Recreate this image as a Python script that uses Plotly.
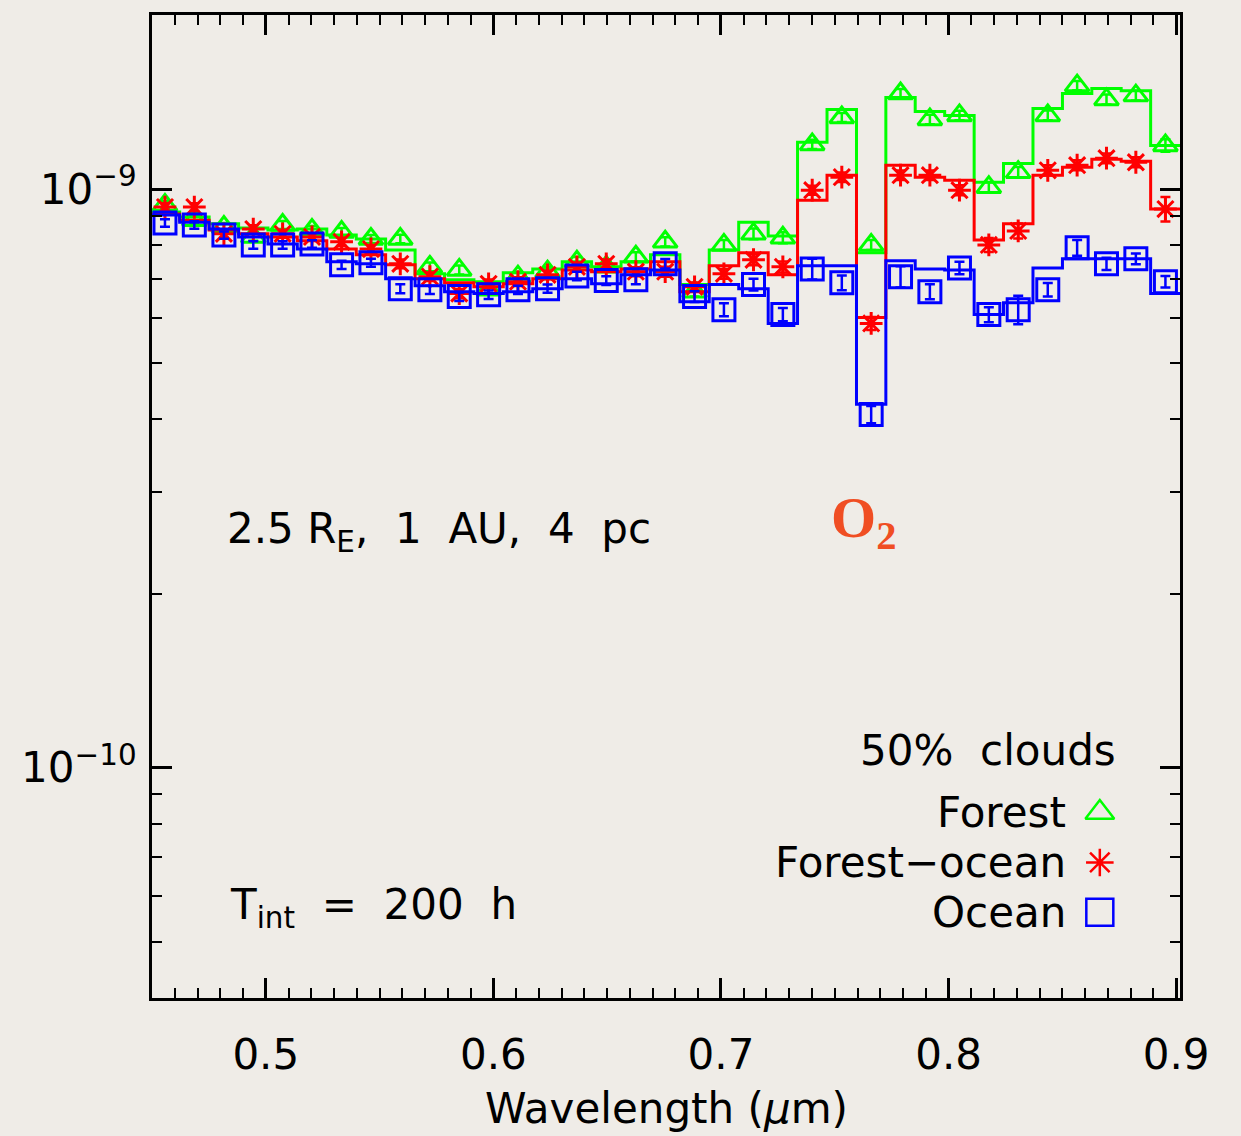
import plotly.graph_objects as go

UNIT = 1e-9

wavelength = [0.4557, 0.4686, 0.4816, 0.4945, 0.5074, 0.5203, 0.5333, 0.5462, 0.5591,
              0.5721, 0.5850, 0.5979, 0.6108, 0.6238, 0.6367, 0.6496, 0.6626, 0.6755,
              0.6884, 0.7013, 0.7143, 0.7272, 0.7401, 0.7531, 0.7660, 0.7789, 0.7918,
              0.8048, 0.8177, 0.8306, 0.8436, 0.8565, 0.8694, 0.8823, 0.8953]

# model spectra (step lines), units of 1e-9
forest_model = [0.913, 0.895, 0.871, 0.857, 0.850, 0.853, 0.833, 0.820, 0.785, 0.714,
                0.697, 0.692, 0.717, 0.728, 0.749, 0.734, 0.749, 0.770, 0.684, 0.785,
                0.877, 0.830, 1.205, 1.373, 0.776, 1.440, 1.362, 1.341, 1.028, 1.108,
                1.378, 1.463, 1.492, 1.480, 1.190]
mixed_model = [0.906, 0.884, 0.850, 0.837, 0.827, 0.814, 0.788, 0.770, 0.740, 0.700,
               0.689, 0.678, 0.686, 0.700, 0.725, 0.720, 0.728, 0.749, 0.665, 0.737,
               0.776, 0.711, 0.957, 1.057, 0.600, 1.100, 1.049, 1.036, 0.817, 0.871,
               1.057, 1.091, 1.126, 1.117, 0.924]
ocean_model = [0.902, 0.877, 0.853, 0.827, 0.804, 0.788, 0.749, 0.743, 0.700, 0.681,
               0.665, 0.660, 0.665, 0.673, 0.700, 0.686, 0.711, 0.725, 0.639, 0.684,
               0.673, 0.586, 0.737, 0.737, 0.425, 0.752, 0.728, 0.725, 0.607, 0.636,
               0.731, 0.758, 0.758, 0.758, 0.660]

# simulated observations (markers), units of 1e-9
forest_obs = [0.939, 0.884, 0.860, 0.827, 0.867, 0.850, 0.843, 0.820, 0.820, 0.734,
              0.725, 0.670, 0.706, 0.720, 0.749, 0.734, 0.764, 0.811, 0.665, 0.801,
              0.837, 0.824, 1.195, 1.330, 0.801, 1.463, 1.320, 1.341, 1.008, 1.070,
              1.341, 1.510, 1.429, 1.451, 1.190]
mixed_obs = [0.931, 0.931, 0.837, 0.853, 0.837, 0.827, 0.811, 0.788, 0.743, 0.706,
             0.660, 0.686, 0.692, 0.711, 0.734, 0.743, 0.720, 0.720, 0.678, 0.714,
             0.755, 0.734, 0.996, 1.049, 0.586, 1.057, 1.057, 0.996, 0.801, 0.847,
             1.078, 1.100, 1.131, 1.113, 0.924]
ocean_obs = [0.874, 0.867, 0.833, 0.801, 0.801, 0.804, 0.740, 0.746, 0.673, 0.670,
             0.652, 0.657, 0.670, 0.673, 0.708, 0.695, 0.697, 0.743, 0.652, 0.619,
             0.684, 0.607, 0.728, 0.689, 0.408, 0.706, 0.665, 0.731, 0.607, 0.619,
             0.670, 0.792, 0.743, 0.758, 0.692]

forest_err = [0.015, 0.014, 0.014, 0.013, 0.014, 0.014, 0.014, 0.013, 0.014, 0.013,
              0.013, 0.012, 0.013, 0.013, 0.014, 0.014, 0.014, 0.015, 0.013, 0.016,
              0.018, 0.018, 0.022, 0.024, 0.016, 0.026, 0.025, 0.025, 0.020, 0.022,
              0.026, 0.028, 0.028, 0.028, 0.030]
mixed_err = [0.014, 0.014, 0.013, 0.013, 0.013, 0.013, 0.013, 0.013, 0.013, 0.012,
             0.012, 0.012, 0.012, 0.012, 0.013, 0.013, 0.013, 0.014, 0.012, 0.014,
             0.016, 0.016, 0.018, 0.020, 0.015, 0.020, 0.020, 0.020, 0.022, 0.025,
             0.022, 0.022, 0.022, 0.022, 0.045]
ocean_err = [0.013, 0.013, 0.012, 0.012, 0.012, 0.012, 0.012, 0.012, 0.012, 0.011,
             0.011, 0.011, 0.011, 0.011, 0.012, 0.012, 0.012, 0.014, 0.014, 0.016,
             0.016, 0.016, 0.030, 0.020, 0.014, 0.030, 0.020, 0.018, 0.018, 0.035,
             0.018, 0.025, 0.018, 0.016, 0.016]

series_names = ["Forest", "Forest\u2212ocean", "Ocean"]
colors = ["#00ff00", "#ff0000", "#0000ff"]
symbols = ["triangle-up-open", "asterisk-open", "square-open"]
msizes = [21, 19, 22]


def step_xy(centers, vals):
    n = len(centers)
    edges = [centers[0] - (centers[1] - centers[0]) / 2]
    for i in range(n - 1):
        edges.append((centers[i] + centers[i + 1]) / 2)
    edges.append(centers[-1] + (centers[-1] - centers[-2]) / 2)
    xs, ys = [], []
    for i in range(n):
        xs += [edges[i], edges[i + 1]]
        ys += [vals[i] * UNIT, vals[i] * UNIT]
    return xs, ys


fig = go.Figure()

models = [forest_model, mixed_model, ocean_model]
obs = [forest_obs, mixed_obs, ocean_obs]
errs = [forest_err, mixed_err, ocean_err]

for k in range(3):
    sx, sy = step_xy(wavelength, models[k])
    fig.add_trace(go.Scatter(x=sx, y=sy, mode="lines",
                             line=dict(color=colors[k], width=3),
                             showlegend=False, hoverinfo="skip"))
    fig.add_trace(go.Scatter(
        x=wavelength, y=[v * UNIT for v in obs[k]], mode="markers",
        name=series_names[k],
        marker=dict(symbol=symbols[k], size=msizes[k], color=colors[k],
                    line=dict(color=colors[k], width=3)),
        error_y=dict(type="data", array=[e * UNIT for e in errs[k]],
                     color=colors[k], thickness=2.5, width=5),
        showlegend=False))

# legend symbols on an overlay axis (paper-like 0..1 coordinates)
leg_y = [0.1886, 0.1379, 0.0872]
leg_sizes = [25, 23, 27]
for k in range(3):
    fig.add_trace(go.Scatter(
        x=[0.922], y=[leg_y[k]], mode="markers", xaxis="x2", yaxis="y2",
        marker=dict(symbol=symbols[k], size=leg_sizes[k], color=colors[k],
                    line=dict(color=colors[k], width=2.5)),
        showlegend=False, hoverinfo="skip"))

FONT = "DejaVu Sans"
fsz = 42

fig.update_layout(
    width=1241, height=1136,
    margin=dict(l=152, r=61, t=12, b=138),
    paper_bgcolor="#efece7", plot_bgcolor="#efece7",
    font=dict(family=FONT, size=fsz, color="black"),
    showlegend=False,
    xaxis=dict(range=[0.45, 0.9017], tick0=0.5, dtick=0.1, ticks="inside",
               ticklen=20, tickwidth=2.5, tickcolor="black",
               showline=True, linewidth=3, linecolor="black", mirror="allticks",
               showgrid=False, zeroline=False, tickformat=".1f",
               ticklabelstandoff=18,
               minor=dict(dtick=0.01, ticks="inside", ticklen=10, tickwidth=2,
                          tickcolor="black", showgrid=False)),
    yaxis=dict(type="log", range=[-10.398, -8.699],
               tickvals=[1e-10, 1e-9],
               ticktext=["10<sup>\u221210</sup>", "10<sup>\u22129</sup>"],
               ticks="inside", ticklen=20, tickwidth=2.5, tickcolor="black",
               showline=True, linewidth=3, linecolor="black", mirror="allticks",
               showgrid=False, zeroline=False, ticklabelstandoff=4,
               minor=dict(tickvals=[5e-11, 6e-11, 7e-11, 8e-11, 9e-11,
                                    2e-10, 3e-10, 4e-10, 5e-10, 6e-10, 7e-10,
                                    8e-10, 9e-10, 2e-9],
                          ticks="inside", ticklen=10, tickwidth=2,
                          tickcolor="black", showgrid=False)),
    xaxis2=dict(overlaying="x", range=[0, 1], visible=False),
    yaxis2=dict(overlaying="y", range=[0, 1], visible=False),
)

ann = [
    dict(text="Wavelength (<i>\u03bc</i>m)", x=0.5, y=-0.112, xanchor="center",
         yanchor="middle", font=dict(size=fsz)),
    dict(text="2.5 R<sub>E</sub>,  1  AU,  4  pc", x=0.071, y=0.4746, xanchor="left",
         yanchor="middle", font=dict(size=fsz)),
    dict(text="T<sub>int</sub>  =  200  h", x=0.074, y=0.092, xanchor="left",
         yanchor="middle", font=dict(size=fsz)),
    dict(text="<b>O<sub>2</sub></b>", x=0.6926, y=0.4848, xanchor="center",
         yanchor="middle", font=dict(size=58, family="Liberation Serif", color="#f04e23")),
    dict(text="50%  clouds", x=0.9397, y=0.2515, xanchor="right", yanchor="middle",
         font=dict(size=fsz)),
]
for k in range(3):
    ann.append(dict(text=series_names[k], x=0.8911, y=leg_y[k], xanchor="right",
                    yanchor="middle", font=dict(size=fsz)))
for a in ann:
    a.update(xref="paper", yref="paper", showarrow=False)
fig.update_layout(annotations=ann)

fig.write_html("out.html")
